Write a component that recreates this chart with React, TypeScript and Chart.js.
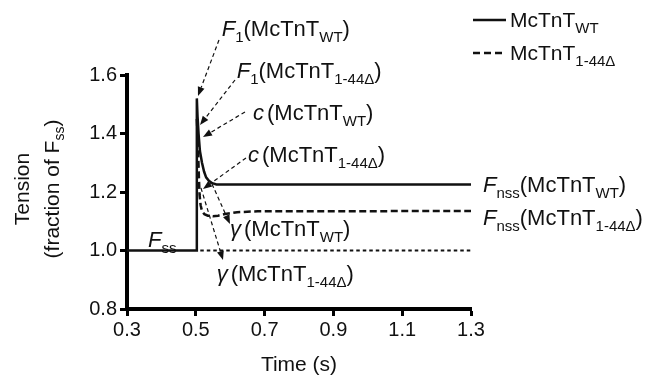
import React, { useEffect, useRef } from "react";
import { Chart, registerables } from "chart.js";

Chart.register(...registerables);

// ---- data ----
const timeWT = [0.3, 0.503, 0.503, 0.505, 0.508, 0.512, 0.518, 0.524, 0.53, 0.538, 0.548, 0.56, 1.3];
const tensionWT = [1.0, 1.0, 1.52, 1.46, 1.4, 1.34, 1.3, 1.27, 1.25, 1.238, 1.23, 1.226, 1.226];
const timeMut = [0.503, 0.505, 0.507, 0.509, 0.511, 0.514, 0.518, 0.525, 0.535, 0.55, 0.565, 0.585, 0.62, 0.68, 1.3];
const tensionMut = [1.45, 1.4, 1.33, 1.25, 1.19, 1.155, 1.135, 1.124, 1.119, 1.117, 1.119, 1.125, 1.131, 1.134, 1.135];
const timeBase = [0.513, 1.3];
const tensionBase = [1.0, 1.0];

const xTicks = [0.3, 0.5, 0.7, 0.9, 1.1, 1.3];
const xTickLabels = ["0.3", "0.5", "0.7", "0.9", "1.1", "1.3"];
const yTicks = [0.8, 1.0, 1.2, 1.4, 1.6];
const yTickLabels = ["0.8", "1.0", "1.2", "1.4", "1.6"];

// annotation texts: [time, tension (baseline), segments]
type Seg = [string, string]; // [text, style] n=normal i=italic s=sub
const labelPos: [number, number][] = [
  [0.5753, 1.7333],
  [0.6189, 1.5897],
  [0.6663, 1.4462],
  [0.6517, 1.3026],
  [1.3349, 1.2],
  [1.3349, 1.0872],
  [0.5994, 1.0496],
  [0.5608, 0.8957],
  [0.361, 1.012],
];
const labelSegs: Seg[][] = [
  [["F", "i"], ["1", "s"], ["(McTnT", "n"], ["WT", "s"], [")", "n"]],
  [["F", "i"], ["1", "s"], ["(McTnT", "n"], ["1-44\u0394", "s"], [")", "n"]],
  [["c", "i"], ["(McTnT", "n"], ["WT", "s"], [")", "n"]],
  [["c", "i"], ["(McTnT", "n"], ["1-44\u0394", "s"], [")", "n"]],
  [["F", "i"], ["nss", "s"], ["(McTnT", "n"], ["WT", "s"], [")", "n"]],
  [["F", "i"], ["nss", "s"], ["(McTnT", "n"], ["1-44\u0394", "s"], [")", "n"]],
  [["\u03b3", "i"], ["(McTnT", "n"], ["WT", "s"], [")", "n"]],
  [["\u03b3", "i"], ["(McTnT", "n"], ["1-44\u0394", "s"], [")", "n"]],
  [["F", "i"], ["ss", "s"]],
];

// arrows: from [t, v] to [t, v]
const arrowFrom: [number, number][] = [
  [0.5674, 1.7197],
  [0.614, 1.5829],
  [0.643, 1.4735],
  [0.6459, 1.3162],
  [0.5471, 1.2274],
  [0.5151, 1.2137],
];
const arrowTo: [number, number][] = [
  [0.5064, 1.5282],
  [0.5122, 1.4291],
  [0.5209, 1.388],
  [0.5209, 1.2103],
  [0.5994, 1.0906],
  [0.5791, 0.9675],
];

const legendNames: Seg[][] = [
  [["McTnT", "n"], ["WT", "s"]],
  [["McTnT", "n"], ["1-44\u0394", "s"]],
];

const FONT = "'Liberation Sans', Arial, Helvetica, sans-serif";

function drawSegs(ctx: CanvasRenderingContext2D, segs: Seg[], x: number, y: number, size: number, subSize: number, subDy: number) {
  let cx = x;
  ctx.textBaseline = "alphabetic";
  ctx.textAlign = "left";
  segs.forEach(([t, st], k) => {
    if (st === "s") {
      ctx.font = `${subSize}px ${FONT}`;
      ctx.fillText(t, cx, y + subDy);
    } else {
      ctx.font = `${st === "i" ? "italic " : ""}${size}px ${FONT}`;
      ctx.fillText(t, cx, y);
    }
    const next = segs[k + 1];
    const gap = st === "i" && next && next[1] === "n" ? 3 : 0;
    cx += ctx.measureText(t).width + gap;
  });
  return cx;
}

const annotPlugin = {
  id: "annot",
  afterDraw(chart: any) {
    const ctx: CanvasRenderingContext2D = chart.ctx;
    const xs = chart.scales.x;
    const ys = chart.scales.y;
    const area = chart.chartArea;
    ctx.save();
    ctx.fillStyle = "#111";
    ctx.strokeStyle = "#111";

    // annotation labels
    labelPos.forEach(([t, v], i) => {
      const px = xs.getPixelForValue(t);
      const py = ys.getPixelForValue(v);
      drawSegs(ctx, labelSegs[i], px, py, 22, 15, 6);
    });

    // arrows
    arrowFrom.forEach((f, i) => {
      const x1 = xs.getPixelForValue(f[0]);
      const y1 = ys.getPixelForValue(f[1]);
      const x2 = xs.getPixelForValue(arrowTo[i][0]);
      const y2 = ys.getPixelForValue(arrowTo[i][1]);
      const ang = Math.atan2(y2 - y1, x2 - x1);
      const hl = 9;
      const hw = 3.5;
      const bx = x2 - hl * Math.cos(ang);
      const by = y2 - hl * Math.sin(ang);
      ctx.beginPath();
      ctx.setLineDash([4, 3]);
      ctx.lineWidth = 1.2;
      ctx.moveTo(x1, y1);
      ctx.lineTo(bx, by);
      ctx.stroke();
      ctx.setLineDash([]);
      ctx.beginPath();
      ctx.moveTo(x2, y2);
      ctx.lineTo(bx + hw * Math.sin(ang), by - hw * Math.cos(ang));
      ctx.lineTo(bx - hw * Math.sin(ang), by + hw * Math.cos(ang));
      ctx.closePath();
      ctx.fill();
    });

    // legend
    const lx0 = 473;
    const lx1 = 506;
    const rows = [20, 53];
    rows.forEach((ry, i) => {
      ctx.beginPath();
      ctx.lineWidth = 2.5;
      ctx.setLineDash(i === 0 ? [] : [7, 4]);
      ctx.moveTo(lx0, ry);
      ctx.lineTo(lx1, ry);
      ctx.stroke();
      ctx.setLineDash([]);
      drawSegs(ctx, legendNames[i], lx1 + 4, ry + 7, 21, 15, 6);
    });

    // x axis title
    ctx.font = `21px ${FONT}`;
    ctx.textAlign = "center";
    ctx.textBaseline = "middle";
    ctx.fillText("Time (s)", (area.left + area.right) / 2, 365);

    // y axis title (rotated)
    const cy = (area.top + area.bottom) / 2 - 3;
    ctx.save();
    ctx.translate(23, cy);
    ctx.rotate(-Math.PI / 2);
    ctx.font = `21px ${FONT}`;
    ctx.textAlign = "center";
    ctx.textBaseline = "middle";
    ctx.fillText("Tension", 0, 0);
    ctx.restore();

    ctx.save();
    ctx.translate(52, cy);
    ctx.rotate(-Math.PI / 2);
    const segs: Seg[] = [["(fraction of F", "n"], ["ss", "s"], [")", "n"]];
    let w = 0;
    for (const [t, st] of segs) {
      ctx.font = `${st === "s" ? 14 : 21}px ${FONT}`;
      w += ctx.measureText(t).width;
    }
    ctx.fillStyle = "#111";
    drawSegs(ctx, segs, -w / 2, 7, 21, 14, 5);
    ctx.restore();

    ctx.restore();
  },
};

export default function App() {
  const ref = useRef<HTMLCanvasElement | null>(null);
  useEffect(() => {
    if (!ref.current) return;
    const chart = new Chart(ref.current, {
      type: "line",
      data: {
        datasets: [
          {
            label: "WT",
            data: timeWT.map((t, i) => ({ x: t, y: tensionWT[i] })),
            borderColor: "#111",
            borderWidth: 2.5,
            pointRadius: 0,
            tension: 0,
            fill: false,
            clip: false as any,
          },
          {
            label: "1-44",
            data: timeMut.map((t, i) => ({ x: t, y: tensionMut[i] })),
            borderColor: "#111",
            borderWidth: 2.5,
            borderDash: [7, 3.5],
            pointRadius: 0,
            tension: 0,
            fill: false,
            clip: false as any,
          },
          {
            label: "base",
            data: timeBase.map((t, i) => ({ x: t, y: tensionBase[i] })),
            borderColor: "#111",
            borderWidth: 1.8,
            borderDash: [3.5, 3],
            pointRadius: 0,
            tension: 0,
            fill: false,
            clip: false as any,
          },
        ],
      },
      options: {
        animation: false,
        responsive: false,
        maintainAspectRatio: false,
        layout: { padding: { left: 0, top: 75, right: 176, bottom: 0 } },
        plugins: { legend: { display: false }, tooltip: { enabled: false } },
        scales: {
          x: {
            type: "linear",
            min: 0.3,
            max: 1.3,
            afterBuildTicks: (s: any) => {
              s.ticks = xTicks.map((v) => ({ value: v }));
            },
            afterFit: (s: any) => {
              s.height = 68;
            },
            ticks: {
              color: "#111",
              font: { size: 20, family: FONT },
              padding: 2,
              maxRotation: 0,
              autoSkip: false,
              callback: (v: any) => {
                const i = xTicks.findIndex((t) => Math.abs(t - Number(v)) < 1e-6);
                return i >= 0 ? xTickLabels[i] : "";
              },
            },
            grid: {
              display: true,
              drawOnChartArea: false,
              drawTicks: true,
              tickLength: 7,
              tickWidth: 3,
              tickColor: "#000",
            },
            border: { display: true, color: "#000", width: 4 },
          },
          y: {
            type: "linear",
            min: 0.8,
            max: 1.6,
            afterBuildTicks: (s: any) => {
              s.ticks = yTicks.map((v) => ({ value: v }));
            },
            afterFit: (s: any) => {
              s.width = 127;
            },
            ticks: {
              color: "#111",
              font: { size: 20, family: FONT },
              padding: 3,
              autoSkip: false,
              callback: (v: any) => {
                const i = yTicks.findIndex((t) => Math.abs(t - Number(v)) < 1e-6);
                return i >= 0 ? yTickLabels[i] : "";
              },
            },
            grid: {
              display: true,
              drawOnChartArea: false,
              drawTicks: true,
              tickLength: 7,
              tickWidth: 3,
              tickColor: "#000",
            },
            border: { display: true, color: "#000", width: 4 },
          },
        },
      },
      plugins: [annotPlugin],
    });
    return () => chart.destroy();
  }, []);
  return (
    <div style={{ position: "absolute", left: 0, top: 0, width: 647, height: 377, background: "#fff" }}>
      <canvas ref={ref} width={647} height={377} style={{ display: "block", width: 647, height: 377 }} />
    </div>
  );
}
